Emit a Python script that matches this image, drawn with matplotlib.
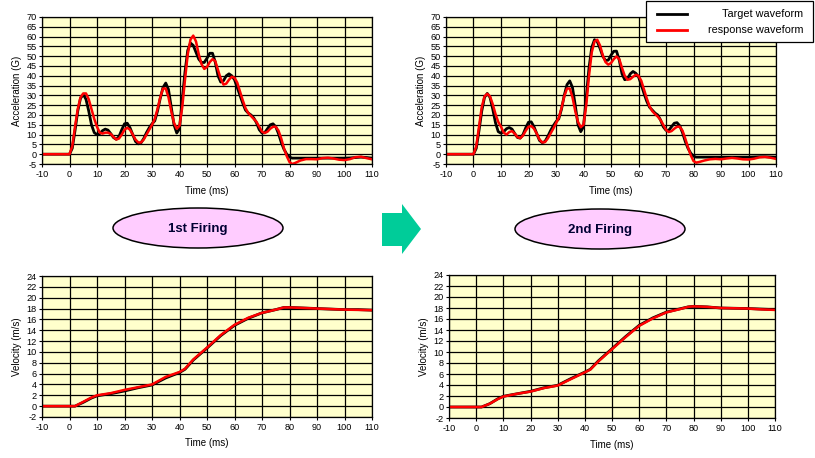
import numpy as np
import matplotlib
matplotlib.use('Agg')
import matplotlib.pyplot as plt
from matplotlib.patches import Ellipse, Polygon, Rectangle

# acceleration sample times (ms)
t_acc = [-10] + list(range(0, 82)) + list(range(82, 111, 2))

# 1st firing, acceleration (G), values at t = 0..81 then 82..110 step 2
acc1_target = [0] + [
    0, 3, 12, 22, 28.5, 30.5, 28, 22, 15, 11, 10, 10.5, 12, 12.8, 12.3, 10.5, 8.5, 7.6, 9, 12.5,
    15.5, 15.8, 13.5, 10, 6.5, 5.3, 5.8, 8, 11, 13.5, 15.5, 17, 22, 28.5, 34, 36.3, 33, 24, 15, 10.8,
    13, 28, 42, 53, 56.7, 55.5, 52, 48.5, 46.8, 46.8, 49, 51.5, 51.5, 47, 40, 36.8, 37.5, 40, 41, 40,
    38, 34, 30, 26, 22.5, 21, 20, 18.5, 16, 12.5, 10.8, 11, 13, 15, 15.5, 14, 10.5, 6, 2.5, 0,
    -1.5, -2] + [-2, -2, -2, -2, -2, -2, -2, -2, -2, -2, -1.9, -1.7, -1.5, -1.7, -2]
acc1_response = [0] + [
    0, 4, 14, 23, 29, 31, 31, 28, 23, 18, 14, 11, 10.5, 11, 11, 10.3, 8.8, 7.5, 8, 10,
    12.5, 13.5, 12.5, 10, 7.5, 6, 6, 7.5, 10, 12.5, 15, 18, 23, 29, 33.5, 33.5, 29, 22, 16, 13,
    14.5, 24, 38, 51, 58.5, 60.5, 57.5, 51, 46, 43.5, 44.5, 47, 48.5, 47.5, 43, 38.5, 35.5, 36, 38, 39.5,
    39, 36.5, 32, 27.5, 23.5, 21, 19.5, 18, 16.5, 14, 11.5, 10.8, 11.5, 13, 14, 14, 12, 8, 3, -1,
    -4, -5] + [-4.5, -3.2, -2.5, -2.5, -2.6, -2, -1.8, -2.2, -2.8, -3, -2.5, -1.5, -1.3, -2, -2.6]

# 2nd firing, acceleration (G)
acc2_target = [0] + [
    0, 3, 12, 22, 29, 31, 29, 23, 16, 11.5, 10.7, 11.5, 13, 13.6, 12.8, 10.5, 8.5, 8.2, 10, 13.5,
    16.3, 16.5, 14, 10.5, 7, 5.9, 6.5, 9, 12, 14.5, 16.6, 18, 23, 30, 35.5, 37.4, 34, 25, 15, 11.5,
    14, 29, 44, 54.5, 58.4, 57.5, 54, 50, 47.8, 48, 50.5, 52.5, 52.6, 48, 41, 38, 38.5, 41, 42.2, 41.3,
    39.5, 35.5, 31, 27, 24, 22.5, 21, 20, 17.5, 14, 12.2, 12.2, 14, 15.8, 16.1, 14.5, 11, 6.5, 3, 0.5,
    -1, -1.5] + [-1.5, -1.5, -1.5, -1.5, -1.5, -1.5, -1.5, -1.5, -1.5, -1.5, -1.4, -1.3, -1.3, -1.4, -1.5]
acc2_response = [0] + [
    0, 4, 14, 24, 29.5, 30.8, 29.5, 25.5, 20.5, 16.5, 14, 11, 10, 11.3, 11.8, 10.5, 8.7, 8.2, 9.5, 12,
    14, 14.4, 13, 10.5, 7.5, 6, 6.2, 8, 10.5, 13, 15.8, 18.5, 23.5, 29.5, 33.5, 33.5, 29, 22, 16.5, 13.8,
    15, 25, 40, 52, 57.5, 58.4, 55.5, 50.5, 47, 45.7, 46.5, 48.5, 49.9, 48.5, 44, 40, 38, 38.3, 39.5, 40.5,
    40, 37.5, 33, 28.5, 24.5, 22, 20.5, 19.2, 17.5, 15, 12.5, 11.3, 11.8, 13, 14, 14, 12, 8, 3.5, -0.5,
    -3.5, -4.3] + [-4, -3.2, -2.6, -2.4, -2.6, -2.2, -1.9, -2.2, -2.6, -2.7, -2.3, -1.6, -1.4, -1.8, -2.4]

# velocity sample times (ms)
t_vel = [-10, 0, 2, 5, 8, 10, 15, 20, 25, 30, 35, 40, 42, 45, 50, 55, 60, 65, 70, 75, 78, 80,
         85, 90, 95, 100, 105, 110]
vel1_target = [0, 0, 0, 0.7, 1.5, 1.9, 2.3, 2.8, 3.4, 3.9, 5.2, 6.2, 6.8, 8.5, 10.7, 13.0, 14.9,
               16.2, 17.2, 17.8, 18.2, 18.2, 18.1, 18.0, 17.9, 17.8, 17.8, 17.7]
vel1_response = [0, 0, 0, 0.8, 1.6, 2.0, 2.4, 3.0, 3.5, 4.0, 5.4, 6.3, 6.9, 8.6, 10.8, 13.1, 15.0,
                 16.3, 17.2, 17.8, 18.2, 18.2, 18.1, 18.0, 17.9, 17.8, 17.75, 17.7]
vel2_target = [0, 0, 0, 0.6, 1.5, 1.95, 2.4, 2.85, 3.5, 3.95, 5.2, 6.35, 6.85, 8.4, 10.6, 12.8, 14.85,
               16.2, 17.25, 17.85, 18.2, 18.3, 18.2, 18.0, 17.95, 17.9, 17.8, 17.7]
vel2_response = [0, 0, 0, 0.6, 1.45, 1.9, 2.4, 2.8, 3.45, 3.9, 5.1, 6.3, 6.8, 8.3, 10.5, 12.7, 14.75,
                 16.1, 17.2, 17.8, 18.2, 18.3, 18.2, 18.0, 17.95, 17.9, 17.75, 17.65]

acc_ticks = list(range(-5, 71, 5))
vel_ticks = list(range(-2, 25, 2))
time_ticks = list(range(-10, 111, 10))
firing_labels = ['1st Firing', '2nd Firing']
legend_labels = ['Target waveform', 'response waveform']

W, H = 815, 458
BG = '#FFFFCC'
FONT = 'Liberation Sans'


def px_axes(fig, left, top, right, bottom):
    """add axes from pixel box (origin top-left)"""
    return fig.add_axes([left / W, 1 - bottom / H, (right - left) / W, (bottom - top) / H])


def style_axes(ax, yticks, ylabel):
    ax.set_facecolor(BG)
    ax.set_xlim(-10, 110)
    ax.set_ylim(yticks[0], yticks[-1])
    ax.set_xticks(time_ticks)
    ax.set_yticks(yticks)
    ax.grid(True, color='black', lw=0.9)
    ax.set_axisbelow(True)
    for s in ax.spines.values():
        s.set_linewidth(0.9)
    ax.tick_params(length=2, width=0.8, labelsize=6.6, pad=2)
    for lab in ax.get_xticklabels() + ax.get_yticklabels():
        lab.set_fontfamily(FONT)
    ax.set_xlabel('Time (ms)', fontsize=7, family=FONT, labelpad=5)
    ax.set_ylabel(ylabel, fontsize=7, family=FONT, labelpad=3)


def main():
    plt.rcParams['axes.unicode_minus'] = False
    fig = plt.figure(figsize=(W / 100, H / 100), dpi=100)

    boxes_acc = [(42, 17, 372, 164), (446, 17, 776, 164)]
    boxes_vel = [(42, 276, 372, 417), (449, 275, 775, 418)]
    accs = [(acc1_target, acc1_response), (acc2_target, acc2_response)]
    vels = [(vel1_target, vel1_response), (vel2_target, vel2_response)]

    for box, (tgt, rsp) in zip(boxes_acc, accs):
        ax = px_axes(fig, *box)
        ax.plot(t_acc, tgt, color='black', lw=2.0, solid_joinstyle='round')
        ax.plot(t_acc, rsp, color='red', lw=1.8, solid_joinstyle='round')
        style_axes(ax, acc_ticks, 'Acceleration (G)')

    for box, (tgt, rsp) in zip(boxes_vel, vels):
        ax = px_axes(fig, *box)
        ax.plot(t_vel, tgt, color='black', lw=2.0)
        ax.plot(t_vel, rsp, color='red', lw=1.8)
        style_axes(ax, vel_ticks, 'Velocity (m/s)')

    # overlay for shapes and legend, in pixel coords
    ov = fig.add_axes([0, 0, 1, 1], zorder=10)
    ov.set_xlim(0, W)
    ov.set_ylim(H, 0)
    ov.axis('off')
    ov.patch.set_alpha(0)

    for (cx, cy), lab in zip([(198, 228), (600, 229)], firing_labels):
        ov.add_patch(Ellipse((cx, cy), 170, 40, facecolor='#FFCCFF', edgecolor='black', lw=1.1))
        ov.text(cx, cy + 1, lab, ha='center', va='center', fontsize=9.5,
                fontweight='bold', family=FONT, color='#000033')

    arrow = [(382, 213), (402, 213), (402, 204), (421, 229), (402, 254), (402, 246), (382, 246)]
    ov.add_patch(Polygon(arrow, closed=True, facecolor='#00CC99', edgecolor='none'))

    # legend box
    ov.add_patch(Rectangle((646, 0.5), 167, 41.5, facecolor='white', edgecolor='black', lw=0.9))
    ov.plot([657, 687], [14, 14], color='black', lw=2.0)
    ov.plot([657, 687], [30, 30], color='red', lw=2.0)
    ov.text(803, 14, legend_labels[0], ha='right', va='center', fontsize=7.8, family=FONT)
    ov.text(803, 30, legend_labels[1], ha='right', va='center', fontsize=7.8, family=FONT)

    fig.savefig('out.png', dpi=100)
    return 0


if __name__ == "__main__":
    main()
